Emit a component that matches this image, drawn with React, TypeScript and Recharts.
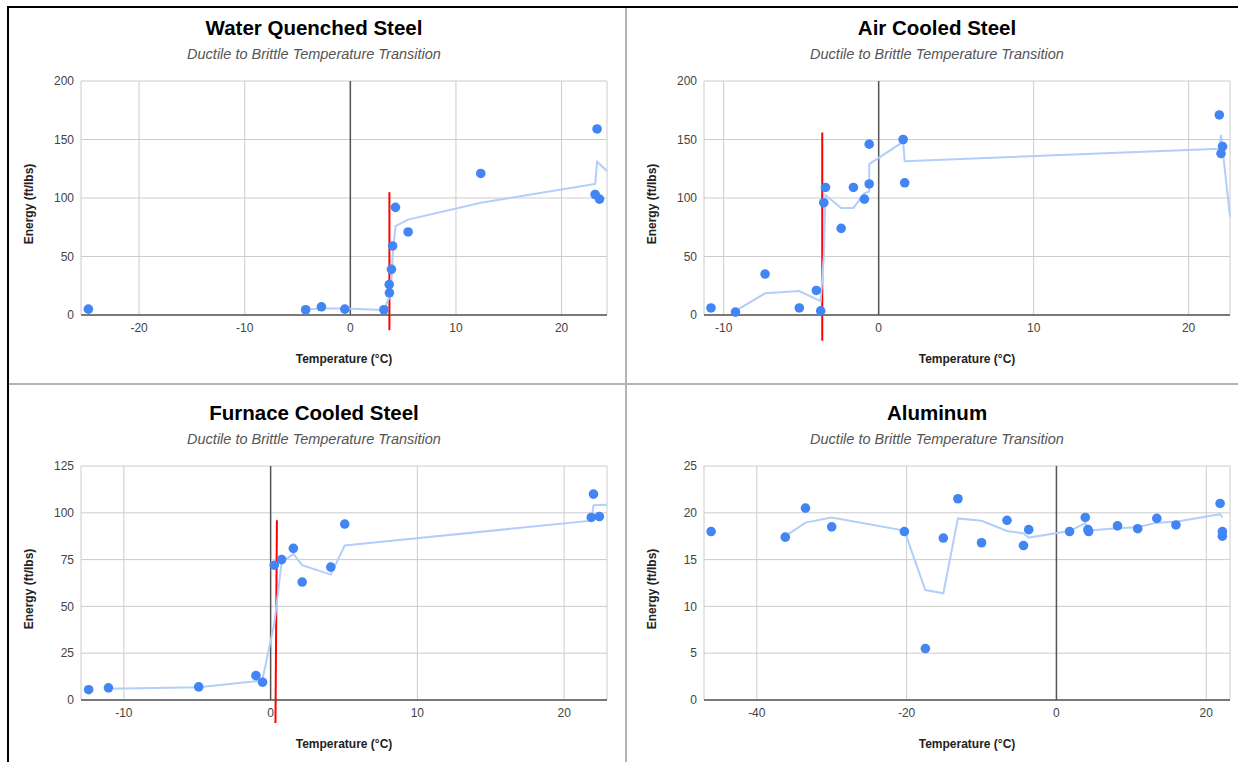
import React from "react";
import { ComposedChart, Scatter, XAxis, YAxis, CartesianGrid, ReferenceLine } from "recharts";

const BLUE = "#4285f4";
const TREND = "#b3cefb";
const RED = "#ff0000";
const GRID = "#cccccc";
const BASE = "#555555";

const SUBTITLE = "Ductile to Brittle Temperature Transition";
const X_TITLE = "Temperature (°C)";
const Y_TITLE = "Energy (ft/lbs)";

// Water Quenched Steel
const waterPoints = [
  { x: -24.8, y: 5 }, { x: -4.23, y: 4.5 }, { x: -2.74, y: 7 }, { x: -0.52, y: 5 },
  { x: 3.18, y: 4.5 }, { x: 3.68, y: 26 }, { x: 3.7, y: 19 }, { x: 3.89, y: 39 },
  { x: 4.0, y: 59 }, { x: 4.27, y: 92 }, { x: 5.47, y: 71 }, { x: 12.35, y: 121 },
  { x: 23.18, y: 103 }, { x: 23.36, y: 159 }, { x: 23.59, y: 99 },
];
const waterTrend = [
  { x: -4.23, y: 4.8 }, { x: -2.74, y: 5.6 }, { x: -0.52, y: 5.5 }, { x: 3.18, y: 4.3 },
  { x: 3.68, y: 15 }, { x: 3.7, y: 22.5 }, { x: 3.89, y: 29 }, { x: 4.0, y: 49 },
  { x: 4.27, y: 76 }, { x: 5.47, y: 81.5 }, { x: 12.35, y: 96 }, { x: 23.18, y: 112 },
  { x: 23.36, y: 131 }, { x: 24.3, y: 123 },
];
const waterTransition = [{ x: 3.7, y: -13 }, { x: 3.7, y: 105 }];

// Air Cooled Steel
const airPoints = [
  { x: -10.82, y: 6 }, { x: -9.24, y: 2.5 }, { x: -7.33, y: 35 }, { x: -5.12, y: 6 },
  { x: -4.02, y: 21 }, { x: -3.74, y: 3.5 }, { x: -3.54, y: 96 }, { x: -3.43, y: 109 },
  { x: -2.42, y: 74 }, { x: -1.63, y: 109 }, { x: -0.92, y: 99 }, { x: -0.61, y: 112 },
  { x: -0.61, y: 146 }, { x: 1.58, y: 150 }, { x: 1.68, y: 113 }, { x: 21.98, y: 171 },
  { x: 22.19, y: 144 }, { x: 22.09, y: 138 },
];
const airTrend = [
  { x: -9.24, y: 3.5 }, { x: -7.33, y: 18.5 }, { x: -5.12, y: 20.5 }, { x: -4.02, y: 13.5 },
  { x: -3.74, y: 12 }, { x: -3.54, y: 50 }, { x: -3.43, y: 102.5 }, { x: -2.42, y: 91.5 },
  { x: -1.63, y: 91.5 }, { x: -0.92, y: 104 }, { x: -0.61, y: 105.5 }, { x: -0.61, y: 129 },
  { x: 1.58, y: 148 }, { x: 1.68, y: 131.5 }, { x: 21.98, y: 142 }, { x: 22.09, y: 154 },
  { x: 22.67, y: 84 },
];
const airTransition = [{ x: -3.64, y: -22 }, { x: -3.64, y: 156 }];

// Furnace Cooled Steel
const furnacePoints = [
  { x: -12.4, y: 5.5 }, { x: -11.05, y: 6.5 }, { x: -4.9, y: 7 }, { x: -1.0, y: 13 },
  { x: -0.55, y: 9.5 }, { x: 0.25, y: 72 }, { x: 0.75, y: 75 }, { x: 1.55, y: 81 },
  { x: 2.15, y: 63 }, { x: 4.1, y: 71 }, { x: 5.05, y: 94 }, { x: 22.0, y: 110 },
  { x: 21.85, y: 97.5 }, { x: 22.4, y: 98 },
];
const furnaceTrend = [
  { x: -11.05, y: 6 }, { x: -4.9, y: 6.8 }, { x: -1.0, y: 10 }, { x: -0.55, y: 11.2 },
  { x: 0.25, y: 40.8 }, { x: 0.75, y: 73.5 }, { x: 1.55, y: 78 }, { x: 2.15, y: 72 },
  { x: 4.1, y: 67 }, { x: 5.05, y: 82.5 }, { x: 21.85, y: 95.8 }, { x: 22.0, y: 104 },
  { x: 22.92, y: 104.3 },
];
const furnaceTransition = [{ x: 0.33, y: -12.3 }, { x: 0.43, y: 96 }];

// Aluminum
const aluminumPoints = [
  { x: -46.1, y: 18 }, { x: -36.2, y: 17.4 }, { x: -33.5, y: 20.5 }, { x: -30.0, y: 18.5 },
  { x: -20.3, y: 18 }, { x: -17.5, y: 5.5 }, { x: -15.1, y: 17.3 }, { x: -13.15, y: 21.5 },
  { x: -10.0, y: 16.8 }, { x: -6.6, y: 19.2 }, { x: -4.4, y: 16.5 }, { x: -3.7, y: 18.2 },
  { x: 1.75, y: 18 }, { x: 3.85, y: 19.5 }, { x: 4.2, y: 18.2 }, { x: 4.3, y: 18 },
  { x: 8.15, y: 18.6 }, { x: 10.85, y: 18.3 }, { x: 13.4, y: 19.4 }, { x: 15.95, y: 18.7 },
  { x: 21.85, y: 21 }, { x: 22.15, y: 18 }, { x: 22.15, y: 17.5 },
];
const aluminumTrend = [
  { x: -36.2, y: 17.5 }, { x: -33.5, y: 18.95 }, { x: -30.0, y: 19.5 }, { x: -20.3, y: 18.1 },
  { x: -17.5, y: 11.75 }, { x: -15.1, y: 11.4 }, { x: -13.15, y: 19.4 }, { x: -10.0, y: 19.15 },
  { x: -6.6, y: 18.05 }, { x: -4.4, y: 17.8 }, { x: -3.7, y: 17.35 }, { x: 1.75, y: 18.05 },
  { x: 3.85, y: 18.9 }, { x: 4.2, y: 18.1 }, { x: 4.3, y: 18.1 }, { x: 8.15, y: 18.35 },
  { x: 10.85, y: 18.45 }, { x: 13.4, y: 18.95 }, { x: 15.95, y: 19.05 }, { x: 21.85, y: 19.85 },
  { x: 22.15, y: 19.5 },
];

const steelEnergyTicks = [0, 50, 100, 150, 200];
const furnaceEnergyTicks = [0, 25, 50, 75, 100, 125];
const aluminumEnergyTicks = [0, 5, 10, 15, 20, 25];
const waterTempTicks = [-20, -10, 0, 10, 20];
const steelTempTicks = [-10, 0, 10, 20];
const aluminumTempTicks = [-40, -20, 0, 20];

const PLOT_W = 526;
const PLOT_H = 234;

const Dot = (props: any) => {
  const { cx, cy } = props;
  if (cx == null || cy == null) return <g />;
  return <circle cx={cx} cy={cy} r={4.8} fill={BLUE} />;
};

const NoDot = () => <g />;

const tickStyle = { fontSize: 12, fill: "#444444" };

function Panel({ title, plotLeft, plotTop, xDomain, xTicks, yDomain, yTicks, points, trend, transition }: any) {
  const chartLeft = plotLeft - 72;
  const chartTop = plotTop - 73;
  return (
    <>
      <div
        style={{
          position: "absolute", left: plotLeft + 233 - 250, width: 500, top: plotTop - 53 - 12,
          height: 24, lineHeight: "24px", textAlign: "center", fontWeight: "bold", fontSize: 20.5, color: "#000",
        }}
      >
        {title}
      </div>
      <div
        style={{
          position: "absolute", left: plotLeft + 233 - 250, width: 500, top: plotTop - 27 - 10,
          height: 20, lineHeight: "20px", textAlign: "center", fontStyle: "italic", fontSize: 14.5, color: "#555",
        }}
      >
        {SUBTITLE}
      </div>
      <div
        style={{
          position: "absolute", left: plotLeft + 263 - 100, width: 200, top: plotTop + 278 - 8,
          height: 16, lineHeight: "16px", textAlign: "center", fontWeight: "bold", fontSize: 12, color: "#222",
        }}
      >
        {X_TITLE}
      </div>
      <div
        style={{
          position: "absolute", left: plotLeft - 52 - 100, width: 200, top: plotTop + 123 - 8,
          height: 16, lineHeight: "16px", textAlign: "center", fontWeight: "bold", fontSize: 12, color: "#222",
          transform: "rotate(-90deg)",
        }}
      >
        {Y_TITLE}
      </div>
      <div style={{ position: "absolute", left: chartLeft, top: chartTop }}>
        <ComposedChart width={620} height={375} margin={{ top: 73, right: 620 - 72 - PLOT_W, bottom: 375 - 73 - PLOT_H - 30, left: 12 }}>
          <CartesianGrid stroke={GRID} />
          <XAxis
            type="number"
            dataKey="x"
            domain={xDomain}
            ticks={xTicks}
            height={30}
            tickLine={false}
            tickSize={0}
            tickMargin={8}
            axisLine={{ stroke: BASE, strokeWidth: 1.5 }}
            tick={tickStyle}
          />
          <YAxis
            type="number"
            dataKey="y"
            domain={yDomain}
            ticks={yTicks}
            width={60}
            axisLine={false}
            tickLine={false}
            tickSize={0}
            tickMargin={7}
            tick={tickStyle}
          />
          <ReferenceLine x={0} stroke={BASE} strokeWidth={1.5} />
          <Scatter data={trend} line={{ stroke: TREND, strokeWidth: 2 }} shape={NoDot} isAnimationActive={false} />
          <Scatter data={points} shape={Dot} isAnimationActive={false} />
          {transition && (
            <ReferenceLine segment={transition} stroke={RED} strokeWidth={2} ifOverflow="visible" />
          )}
        </ComposedChart>
      </div>
    </>
  );
}

export default function App() {
  return (
    <div
      style={{
        position: "absolute", left: 0, top: 0, width: 1238, height: 762, overflow: "hidden",
        background: "#fff", fontFamily: "Arial, 'Liberation Sans', sans-serif",
      }}
    >
      <div style={{ position: "absolute", left: 7, top: 6, width: 1240, height: 2, background: "#000" }} />
      <div style={{ position: "absolute", left: 7, top: 6, width: 2, height: 760, background: "#000" }} />
      <div style={{ position: "absolute", left: 625, top: 8, width: 2, height: 760, background: "#b4b4b4" }} />
      <div style={{ position: "absolute", left: 9, top: 383, width: 1240, height: 2, background: "#b4b4b4" }} />

      <Panel
        title="Water Quenched Steel"
        plotLeft={81}
        plotTop={81}
        xDomain={[-25.5, 24.3]}
        xTicks={waterTempTicks}
        yDomain={[0, 200]}
        yTicks={steelEnergyTicks}
        points={waterPoints}
        trend={waterTrend}
        transition={waterTransition}
      />
      <Panel
        title="Air Cooled Steel"
        plotLeft={704}
        plotTop={81}
        xDomain={[-11.27, 22.67]}
        xTicks={steelTempTicks}
        yDomain={[0, 200]}
        yTicks={steelEnergyTicks}
        points={airPoints}
        trend={airTrend}
        transition={airTransition}
      />
      <Panel
        title="Furnace Cooled Steel"
        plotLeft={81}
        plotTop={466}
        xDomain={[-12.92, 22.92]}
        xTicks={steelTempTicks}
        yDomain={[0, 125]}
        yTicks={furnaceEnergyTicks}
        points={furnacePoints}
        trend={furnaceTrend}
        transition={furnaceTransition}
      />
      <Panel
        title="Aluminum"
        plotLeft={704}
        plotTop={466}
        xDomain={[-47.05, 23.17]}
        xTicks={aluminumTempTicks}
        yDomain={[0, 25]}
        yTicks={aluminumEnergyTicks}
        points={aluminumPoints}
        trend={aluminumTrend}
      />
    </div>
  );
}
